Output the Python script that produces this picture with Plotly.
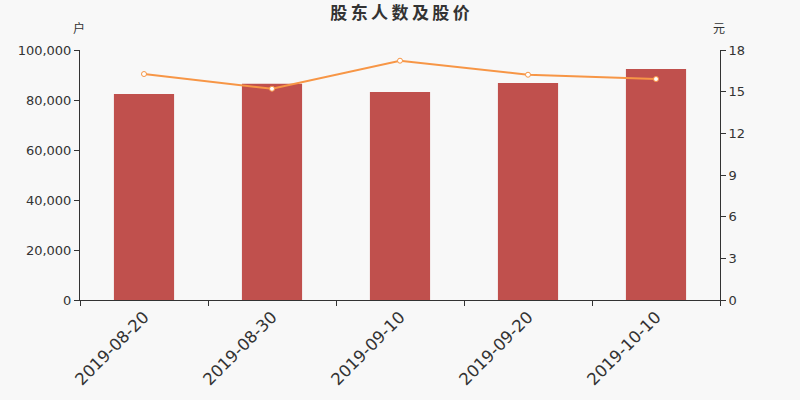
import plotly.graph_objects as go

dates = ["2019-08-20", "2019-08-30", "2019-09-10", "2019-09-20", "2019-10-10"]
holders = [82400, 86500, 83200, 86800, 92400]
price = [16.27, 15.21, 17.23, 16.22, 15.91]
title = "股东人数及股价"

cjk = "Noto Sans CJK SC"
lat = "DejaVu Sans"
fig = go.Figure()
fig.add_trace(go.Bar(x=dates, y=holders, marker_color="#c0504d", marker_line_width=0,
                     width=0.47, name="股东人数"))
fig.add_trace(go.Scatter(x=dates, y=price, yaxis="y2", mode="lines+markers",
                         line=dict(color="#f79646", width=2),
                         marker=dict(size=5, color="white", line=dict(color="#f79646", width=1)),
                         name="股价"))
fig.update_layout(
    width=800, height=400,
    margin=dict(l=80, r=80, t=50, b=100),
    paper_bgcolor="#f8f8f8", plot_bgcolor="#f8f8f8",
    showlegend=False,
    title=dict(text="<b>" + "\u2009".join(title) + "</b>", x=0.5, xanchor="center", y=0.967, yanchor="middle",
               font=dict(family=cjk, size=17, color="#333")),
    font=dict(family=lat, color="#333"),
    xaxis=dict(type="category", tickson="boundaries", ticks="outside", ticklen=5,
               showline=True, linecolor="#333", tickcolor="#333", tickangle=-45,
               tickfont=dict(family=lat, size=16.5, color="#333"), showgrid=False),
    yaxis=dict(range=[0, 100000], dtick=20000, tickformat=",", ticks="outside", ticklen=5,
               showline=True, linecolor="#333", tickcolor="#333", showgrid=False, zeroline=False,
               tickfont=dict(family=lat, size=13, color="#333")),
    yaxis2=dict(range=[0, 18], dtick=3, overlaying="y", side="right", ticks="outside", ticklen=5,
                showline=True, linecolor="#333", tickcolor="#333", showgrid=False, zeroline=False,
                tickfont=dict(family=lat, size=13, color="#333")),
    annotations=[
        dict(text="户", xref="paper", yref="paper", x=0, y=1.088, xanchor="center", yanchor="middle",
             showarrow=False, font=dict(family=cjk, size=12, color="#333"), xshift=-1),
        dict(text="元", xref="paper", yref="paper", x=1, y=1.088, xanchor="center", yanchor="middle",
             showarrow=False, font=dict(family=cjk, size=12, color="#333"), xshift=-1),
    ],
)
fig.write_html("out.html", config={"displayModeBar": False},
               post_script="document.body.style.margin='0';")
